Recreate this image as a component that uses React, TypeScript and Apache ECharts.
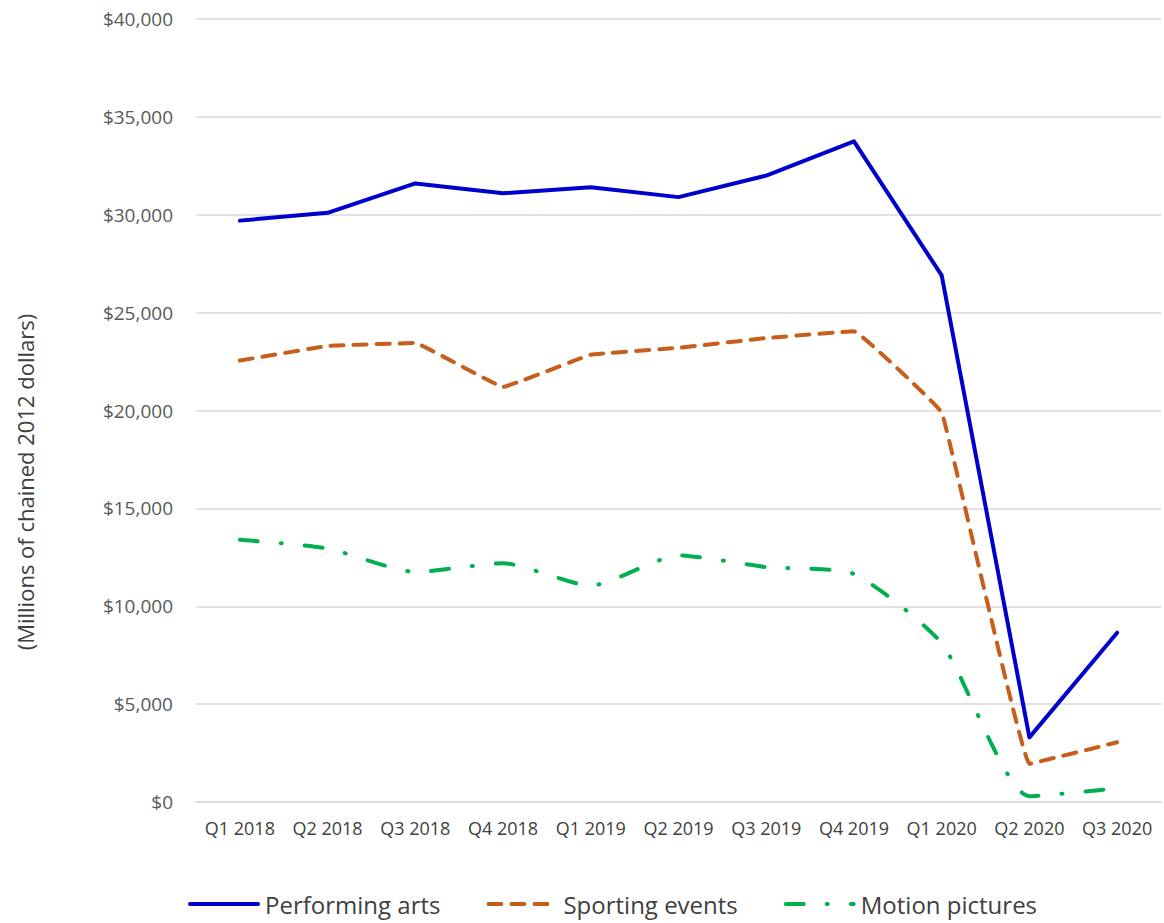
import React, { useEffect, useRef } from "react";
import * as echarts from "echarts";

const categories = [
  "Q1 2018", "Q2 2018", "Q3 2018", "Q4 2018",
  "Q1 2019", "Q2 2019", "Q3 2019", "Q4 2019",
  "Q1 2020", "Q2 2020", "Q3 2020",
];
const performingArts = [29700, 30100, 31600, 31100, 31400, 30900, 32000, 33750, 26900, 3300, 8650];
const sportingEvents = [22550, 23300, 23450, 21200, 22850, 23200, 23700, 24050, 19900, 1950, 3050];
const motionPictures = [13400, 12950, 11750, 12200, 11050, 12600, 12000, 11650, 8100, 300, 700];
const yTicks = { min: 0, max: 40000, interval: 5000 };
const yTitle = "(Millions of chained 2012 dollars)";

const FONT = "'Open Sans', 'Noto Sans', sans-serif";

export default function App() {
  const ref = useRef<HTMLDivElement>(null);
  useEffect(() => {
    if (!ref.current) return;
    const chart = echarts.init(ref.current, undefined, { renderer: "svg" });
    chart.setOption({
      animation: false,
      backgroundColor: "#ffffff",
      grid: { left: 196, right: 3, top: 19, bottom: 121, containLabel: false },
      xAxis: {
        type: "category",
        data: categories,
        boundaryGap: true,
        axisLine: { show: true, lineStyle: { color: "#d9d9d9", width: 1.5 } },
        axisTick: { show: false },
        axisLabel: { interval: 0, color: "#404040", fontFamily: FONT, fontSize: 18, margin: 17 },
      },
      yAxis: {
        type: "value",
        min: yTicks.min,
        max: yTicks.max,
        interval: yTicks.interval,
        axisLine: { show: false },
        axisTick: { show: false },
        splitLine: { lineStyle: { color: "#d9d9d9", width: 1.5 } },
        axisLabel: {
          color: "#595959",
          fontFamily: FONT,
          fontSize: 19,
          margin: 23,
          formatter: (v: number) => "$" + v.toLocaleString("en-US"),
        },
      },
      legend: {
        left: 183,
        top: 887,
        itemWidth: 68,
        itemHeight: 14,
        itemGap: 46,
        itemStyle: { opacity: 0 },
        lineStyle: { width: 4, cap: "round" },
        textStyle: { color: "#404040", fontFamily: FONT, fontSize: 24, padding: [0, 0, 0, 2] },
        data: ["Performing arts", "Sporting events", "Motion pictures"],
      },
      graphic: [
        {
          type: "text",
          x: 25,
          y: 482,
          rotation: Math.PI / 2,
          style: {
            text: yTitle,
            fill: "#404040",
            font: `22px ${FONT}`,
            textAlign: "center",
            textVerticalAlign: "middle",
          },
        },
      ],
      series: [
        {
          name: "Performing arts",
          type: "line",
          data: performingArts,
          symbol: "none",
          lineStyle: { color: "#0000CC", width: 4, cap: "round", join: "round" },
          itemStyle: { color: "#0000CC" },
        },
        {
          name: "Sporting events",
          type: "line",
          data: sportingEvents,
          symbol: "none",
          smooth: 0.05,
          lineStyle: { color: "#C65F1C", width: 4, type: [13, 10], cap: "round", join: "round" },
          itemStyle: { color: "#C65F1C" },
        },
        {
          name: "Motion pictures",
          type: "line",
          data: motionPictures,
          symbol: "none",
          smooth: 0.2,
          lineStyle: { color: "#00B050", width: 4, type: [18, 23, 1, 23], cap: "round", join: "round" },
          itemStyle: { color: "#00B050" },
        },
      ],
    });
    return () => chart.dispose();
  }, []);
  return (
    <div
      ref={ref}
      style={{ position: "fixed", left: 0, top: 0, width: 1164, height: 923, background: "#fff" }}
    />
  );
}
